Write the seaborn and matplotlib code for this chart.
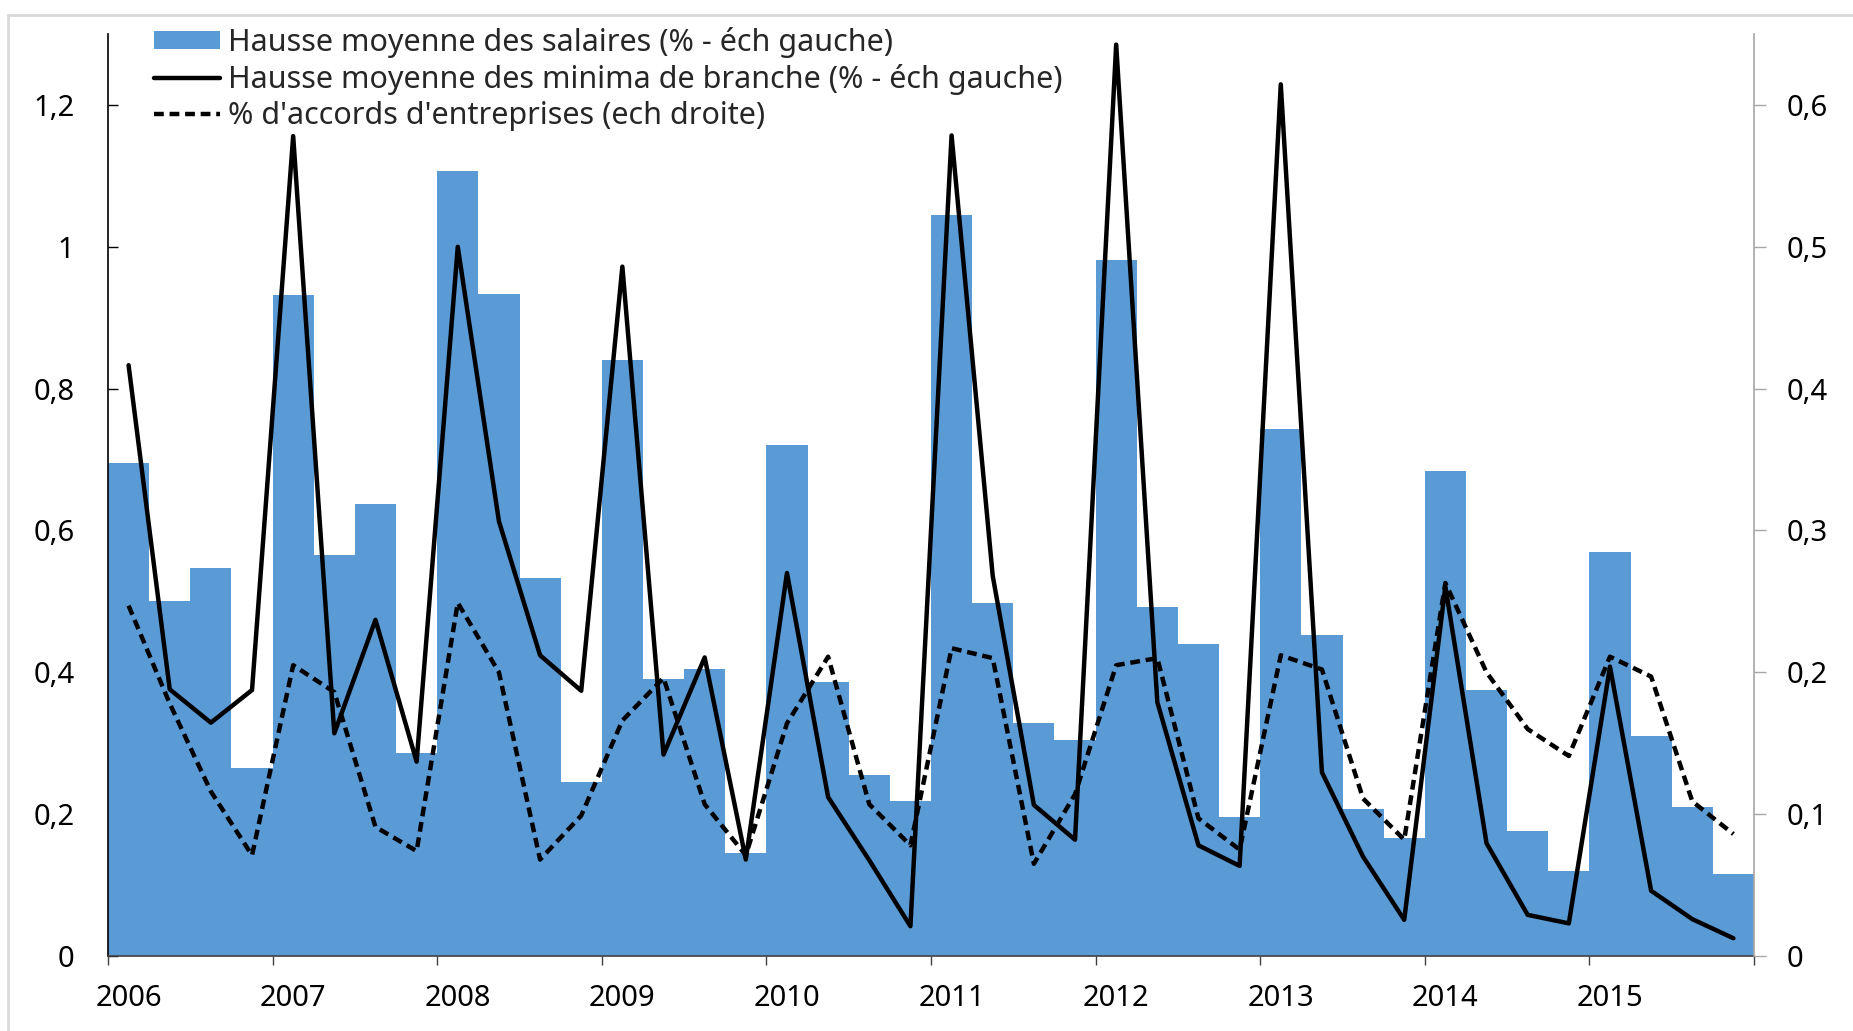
import matplotlib.pyplot as plt
import matplotlib.ticker as ticker
from matplotlib.patches import Patch, Rectangle
from matplotlib.lines import Line2D
import numpy as np
import seaborn as sns

# quarterly data, 2006Q1 .. 2015Q4
years = list(range(2006, 2016))
quarters = np.arange(40)

# Hausse moyenne des salaires (% - left axis)
salaires = [0.695, 0.500, 0.547, 0.265,
            0.932, 0.566, 0.638, 0.286,
            1.107, 0.934, 0.533, 0.246,
            0.841, 0.390, 0.405, 0.145,
            0.720, 0.386, 0.255, 0.219,
            1.045, 0.498, 0.328, 0.304,
            0.982, 0.492, 0.440, 0.196,
            0.743, 0.452, 0.207, 0.167,
            0.684, 0.375, 0.176, 0.120,
            0.570, 0.310, 0.210, 0.116]

# Hausse moyenne des minima de branche (% - left axis)
minima = [0.833, 0.376, 0.329, 0.375,
          1.156, 0.314, 0.474, 0.274,
          1.000, 0.613, 0.424, 0.374,
          0.972, 0.284, 0.421, 0.136,
          0.540, 0.224, 0.135, 0.042,
          1.157, 0.536, 0.213, 0.164,
          1.285, 0.358, 0.156, 0.127,
          1.229, 0.259, 0.140, 0.051,
          0.521, 0.159, 0.058, 0.046,
          0.408, 0.092, 0.052, 0.025]

# % d'accords d'entreprises (right axis)
accords = [0.247, 0.178, 0.116, 0.071,
           0.205, 0.186, 0.091, 0.074,
           0.249, 0.200, 0.068, 0.099,
           0.166, 0.196, 0.107, 0.071,
           0.164, 0.211, 0.107, 0.078,
           0.217, 0.210, 0.065, 0.114,
           0.205, 0.210, 0.097, 0.075,
           0.212, 0.202, 0.111, 0.082,
           0.263, 0.200, 0.160, 0.141,
           0.211, 0.197, 0.109, 0.086]

labels = [
    "Hausse moyenne des salaires (% - éch gauche)",
    "Hausse moyenne des minima de branche (% - éch gauche)",
    "% d'accords d'entreprises (ech droite)",
]

BLUE = "#5B9BD5"
W, H = 1853, 1031

sns.set_style("white")
plt.rcParams["font.family"] = ["Noto Sans", "DejaVu Sans"]

fig = plt.figure(figsize=(W / 100, H / 100), dpi=100)
ax = fig.add_axes([108 / W, 1 - 956 / H, (1754 - 108) / W, (956 - 34) / H])

sns.barplot(x=quarters, y=salaires, color=BLUE, width=1.0, saturation=1,
            linewidth=0, ax=ax)
sns.lineplot(x=quarters, y=minima, color="black", lw=3.2, ax=ax)

ax2 = ax.twinx()
sns.lineplot(x=quarters, y=accords, color="black", lw=3.2,
             linestyle=(0, (2.2, 1.3)), ax=ax2)

ax.set_xlim(-0.5, 39.5)
ax.set_ylim(0, 1.3)
ax2.set_ylim(0, 0.65)
ax.set_xlabel("")
ax.set_ylabel("")
ax2.set_ylabel("")

comma = ticker.FuncFormatter(lambda v, p: f"{v:g}".replace(".", ","))

# x axis: ticks at year boundaries, year label under the first quarter
ax.set_xticks(np.arange(-0.5, 40, 4))
ax.set_xticklabels([])
ax.set_xticks(np.arange(0, 40, 4), minor=True)
ax.set_xticklabels([str(y) for y in years], minor=True)
ax.tick_params(axis="x", which="major", direction="out", length=6.5, width=1,
               color="#404040", bottom=True)
ax.tick_params(axis="x", which="minor", length=0, pad=20, labelsize=21,
               labelcolor="black")

ax.set_yticks(np.arange(0, 1.21, 0.2))
ax.yaxis.set_major_formatter(comma)
ax.tick_params(axis="y", direction="in", length=7, width=1, color="black",
               left=True, pad=24, labelsize=21, labelcolor="black")

ax2.set_yticks(np.arange(0, 0.61, 0.1))
ax2.yaxis.set_major_formatter(comma)
ax2.tick_params(axis="y", direction="out", length=8.4, width=1, color="#A6A6A6",
                right=True, pad=15, labelsize=21, labelcolor="black")

for a in (ax, ax2):
    a.spines["top"].set_visible(False)
ax.spines["right"].set_visible(False)
ax2.spines["left"].set_visible(False)
ax2.spines["bottom"].set_visible(False)
ax.spines["left"].set_color("black")
ax.spines["bottom"].set_color("#404040")
ax2.spines["right"].set_color("#A6A6A6")
for s in ("left", "bottom"):
    ax.spines[s].set_linewidth(1.2)
ax2.spines["right"].set_linewidth(1.2)

handles = [
    Patch(facecolor=BLUE, edgecolor="none"),
    Line2D([], [], color="black", lw=3.2),
    Line2D([], [], color="black", lw=3.2, linestyle=(0, (2.2, 1.3))),
]
fig.legend(handles, labels, loc="upper left",
           bbox_to_anchor=(154 / W, 1 - 27 / H), frameon=False, fontsize=22,
           handlelength=2.15, handleheight=0.55, handletextpad=0.27,
           labelspacing=0.2, borderpad=0, borderaxespad=0)

# light chart-area border
fig.add_artist(Rectangle((8 / W, -0.1), 2, 1 - 15 / H + 0.1,
                         transform=fig.transFigure, fill=False,
                         edgecolor="#D9D9D9", lw=2))

fig.savefig("out.png", dpi=100)
